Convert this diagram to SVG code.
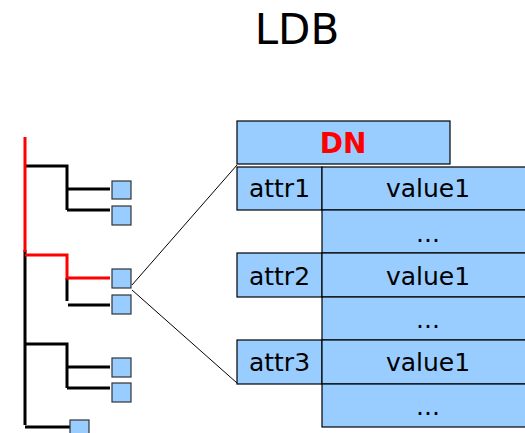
<svg xmlns="http://www.w3.org/2000/svg" width="525" height="433" viewBox="0 0 525 433">
<style>
.cell{fill:#99ccff;stroke:#000;stroke-width:1.2}
.leaf{fill:#99ccff;stroke:#333;stroke-width:1.2}
.t{font-family:"DejaVu Sans",sans-serif;font-size:25px;fill:#000;text-anchor:middle}
.blk{fill:none;stroke:#000;stroke-width:3}
.red{fill:none;stroke:#ff0000;stroke-width:3}
.thin{fill:none;stroke:#000;stroke-width:1}
</style>
<rect width="525" height="433" fill="#fff"/>
<text x="297" y="44" font-family="DejaVu Sans, sans-serif" font-size="42" text-anchor="middle">LDB</text>
<g id="connectors">
<path class="blk" d="M25,250V425M25,166H67V210M67,189H110M67,210H110M67,278V301M68,305H110M25,344H67V388M67,367H110M67,388H110M25,427H70"/>
<path class="red" d="M25,137V252M25,255H67V278H110"/>
<path class="thin" d="M132,285L237,165M132,290L237,383"/>
</g>
<g id="leaf1"><rect class="leaf" x="112" y="181" width="19" height="18"/></g>
<g id="leaf2"><rect class="leaf" x="112" y="206" width="19" height="19"/></g>
<g id="leaf3"><rect class="leaf" x="112" y="269" width="19" height="19"/></g>
<g id="leaf4"><rect class="leaf" x="112" y="295" width="19" height="19"/></g>
<g id="leaf5"><rect class="leaf" x="112" y="358" width="19" height="19"/></g>
<g id="leaf6"><rect class="leaf" x="112" y="383" width="19" height="19"/></g>
<g id="leaf7"><rect class="leaf" x="70" y="420" width="19" height="19"/></g>
<g id="dn"><rect class="cell" x="237" y="121" width="213" height="43"/><text x="343" y="153" font-family="DejaVu Sans, sans-serif" font-size="28" font-weight="bold" fill="#ff0000" text-anchor="middle">DN</text></g>
<g id="attr1"><rect class="cell" x="237" y="167" width="85" height="43"/><text class="t" x="279.5" y="197">attr1</text></g>
<g id="value1a"><rect class="cell" x="322" y="167" width="215" height="43"/><text class="t" x="428" y="197">value1</text></g>
<g id="more1"><rect class="cell" x="322" y="210" width="215" height="43"/><text class="t" x="428" y="242">...</text></g>
<g id="attr2"><rect class="cell" x="237" y="253" width="85" height="44"/><text class="t" x="279.5" y="285">attr2</text></g>
<g id="value1b"><rect class="cell" x="322" y="253" width="215" height="44"/><text class="t" x="428" y="285">value1</text></g>
<g id="more2"><rect class="cell" x="322" y="297" width="215" height="43"/><text class="t" x="428" y="328">...</text></g>
<g id="attr3"><rect class="cell" x="237" y="340" width="85" height="44"/><text class="t" x="279.5" y="371">attr3</text></g>
<g id="value1c"><rect class="cell" x="322" y="340" width="215" height="44"/><text class="t" x="428" y="371">value1</text></g>
<g id="more3"><rect class="cell" x="322" y="384" width="215" height="43"/><text class="t" x="428" y="415">...</text></g>
</svg>
